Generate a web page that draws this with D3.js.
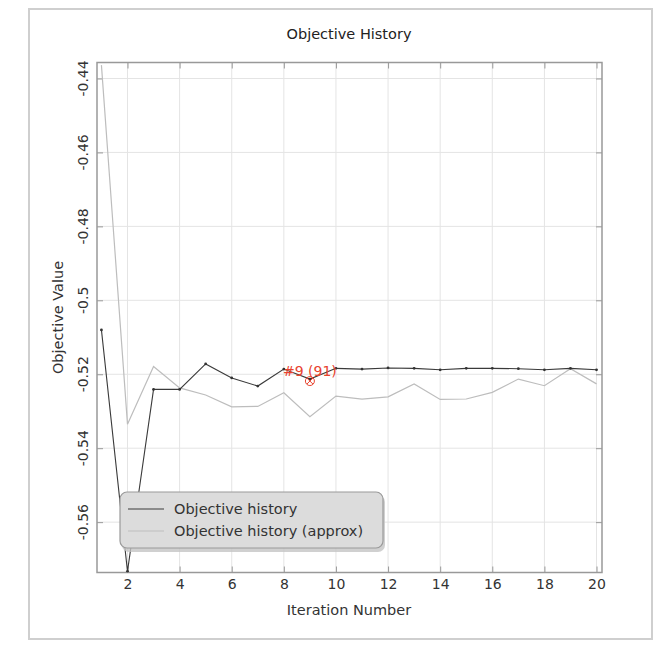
<!DOCTYPE html>
<html>
<head>
<meta charset="utf-8">
<script src="https://cdn.jsdelivr.net/npm/d3@7"></script>
<style>
  html, body { margin: 0; padding: 0; background: #fff; }
  svg { display: block; font-family: "DejaVu Sans", Verdana, sans-serif; }
</style>
</head>
<body>
<svg id="chart" width="661" height="648"></svg>
<script>
// ---- data ----
const iterations = d3.range(1, 21);
const objectiveHistory = [-0.5080, -0.5733, -0.5241, -0.5241, -0.5172, -0.5210, -0.5232, -0.5186, -0.5213, -0.5184,
                          -0.5186, -0.5183, -0.5184, -0.5188, -0.5184, -0.5184, -0.5185, -0.5188, -0.5184, -0.5188];
const objectiveApprox = [-0.4364, -0.5335, -0.5179, -0.5237, -0.5256, -0.5288, -0.5287, -0.5250, -0.5315, -0.5259,
                         -0.5267, -0.5261, -0.5226, -0.5268, -0.5267, -0.5249, -0.5213, -0.5231, -0.5185, -0.5226];
const xTicks = [2, 4, 6, 8, 10, 12, 14, 16, 18, 20];
const yTicks = [-0.44, -0.46, -0.48, -0.5, -0.52, -0.54, -0.56];
const yTickLabels = ["-0.44", "-0.46", "-0.48", "-0.5", "-0.52", "-0.54", "-0.56"];
const bestIndex = 9;
const bestLabel = "#9 (91)";
const legendLabels = ["Objective history", "Objective history (approx)"];

// ---- layout ----
const svg = d3.select("#chart");
const L = 97, R = 602, T = 62.5, B = 572.5;
const x = d3.scaleLinear().domain([0.83, 20.21]).range([L, R]);
const y = d3.scaleLinear().domain([-0.57362, -0.43568]).range([B, T]);

// outer frame
svg.append("rect").attr("x", 29).attr("y", 9).attr("width", 623).attr("height", 630)
  .attr("fill", "#fff").attr("stroke", "#cfcfcf").attr("stroke-width", 2);

// grid
const g = svg.append("g");
g.selectAll(".vg").data(xTicks).join("line")
  .attr("x1", d => x(d)).attr("x2", d => x(d)).attr("y1", T).attr("y2", B)
  .attr("stroke", "#e4e4e4").attr("stroke-width", 1);
g.selectAll(".hg").data(yTicks).join("line")
  .attr("x1", L).attr("x2", R).attr("y1", d => y(d)).attr("y2", d => y(d))
  .attr("stroke", "#e4e4e4").attr("stroke-width", 1);

// axes with inward ticks
const axB = d3.axisBottom(x).tickValues(xTicks).tickSize(-6).tickPadding(7).tickFormat(d3.format("d"));
const axT = d3.axisTop(x).tickValues(xTicks).tickSize(-6).tickFormat("");
const axLf = d3.axisLeft(y).tickValues(yTicks).tickSize(-6).tickFormat("");
const axRt = d3.axisRight(y).tickValues(yTicks).tickSize(-6).tickFormat("");

function styleAxis(sel) {
  sel.select(".domain").remove();
  sel.selectAll(".tick line").attr("stroke", "#999").attr("stroke-width", 1);
}
const gb = svg.append("g").attr("transform", `translate(0,${B})`).call(axB).call(styleAxis);
gb.selectAll(".tick text").attr("font-size", 14).attr("fill", "#333")
  .attr("font-family", "DejaVu Sans, Verdana, sans-serif");
svg.append("g").attr("transform", `translate(0,${T})`).call(axT).call(styleAxis);
svg.append("g").attr("transform", `translate(${L},0)`).call(axLf).call(styleAxis);
svg.append("g").attr("transform", `translate(${R},0)`).call(axRt).call(styleAxis);

// y tick labels rotated
svg.append("g").selectAll("text").data(yTicks).join("text")
  .attr("transform", d => `translate(88,${y(d)}) rotate(-90)`)
  .attr("text-anchor", "middle")
  .attr("font-size", 14).attr("fill", "#333")
  .text((d, i) => yTickLabels[i]);

// plot box
svg.append("rect").attr("x", L).attr("y", T).attr("width", R - L).attr("height", B - T)
  .attr("fill", "none").attr("stroke", "#999").attr("stroke-width", 1.5);

// lines
svg.append("clipPath").attr("id", "clip").append("rect")
  .attr("x", L).attr("y", T).attr("width", R - L).attr("height", B - T);
const line = d3.line().x((d, i) => x(iterations[i])).y(d => y(d));
const plot = svg.append("g").attr("clip-path", "url(#clip)");
plot.append("path").datum(objectiveApprox).attr("d", line)
  .attr("fill", "none").attr("stroke", "#bdbdbd").attr("stroke-width", 1.2);
plot.append("path").datum(objectiveHistory).attr("d", line)
  .attr("fill", "none").attr("stroke", "#3a3a3a").attr("stroke-width", 1.1);
plot.selectAll(".pt").data(objectiveHistory).join("circle")
  .attr("cx", (d, i) => x(iterations[i])).attr("cy", d => y(d)).attr("r", 1.4)
  .attr("fill", "#333");

// best marker
const bx = x(bestIndex), by = y(objectiveHistory[bestIndex - 1]) + 2;
const red = "#e8432e";
svg.append("circle").attr("cx", bx).attr("cy", by).attr("r", 4.5)
  .attr("fill", "none").attr("stroke", red).attr("stroke-width", 1);
svg.append("path").attr("d", `M${bx - 3},${by - 3}L${bx + 3},${by + 3}M${bx - 3},${by + 3}L${bx + 3},${by - 3}`)
  .attr("stroke", red).attr("stroke-width", 1);
svg.append("text").attr("x", 283).attr("y", 376).attr("font-size", 14).attr("fill", red)
  .text(bestLabel);

// legend
const lg = svg.append("g");
lg.append("rect").attr("x", 122).attr("y", 495).attr("width", 263).attr("height", 57).attr("rx", 7)
  .attr("fill", "#c4c4c4").attr("opacity", 0.8);
lg.append("rect").attr("x", 120).attr("y", 492).attr("width", 263).attr("height", 56).attr("rx", 7)
  .attr("fill", "#dcdcdc").attr("stroke", "#9a9a9a").attr("stroke-width", 1.2);
const legColors = ["#3a3a3a", "#bdbdbd"];
legendLabels.forEach((lab, i) => {
  const ly = 509 + i * 22;
  lg.append("line").attr("x1", 128).attr("x2", 164).attr("y1", ly).attr("y2", ly)
    .attr("stroke", legColors[i]).attr("stroke-width", 1.2);
  lg.append("text").attr("x", 174).attr("y", ly + 5).attr("font-size", 14.5).attr("fill", "#333").text(lab);
});

// titles
svg.append("text").attr("x", 349).attr("y", 39).attr("text-anchor", "middle")
  .attr("font-size", 14.5).attr("fill", "#222").text("Objective History");
svg.append("text").attr("x", 349).attr("y", 615).attr("text-anchor", "middle")
  .attr("font-size", 14.5).attr("fill", "#333").text("Iteration Number");
svg.append("text").attr("transform", `translate(63,${(T + B) / 2}) rotate(-90)`).attr("text-anchor", "middle")
  .attr("font-size", 14.5).attr("fill", "#333").text("Objective Value");
</script>
</body>
</html>
